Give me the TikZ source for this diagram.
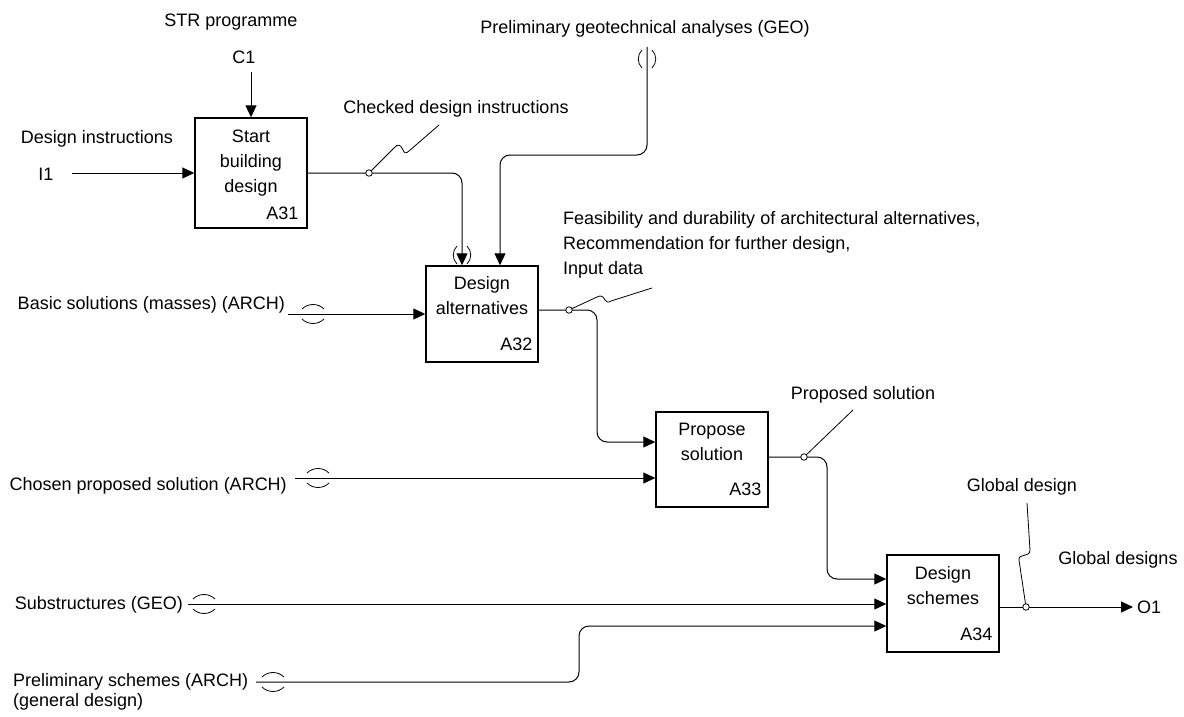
\documentclass[tikz,border=0pt]{standalone}
\usepackage{fontspec}
\setmainfont{Liberation Sans}
\usetikzlibrary{arrows.meta}
\begin{document}
\begin{tikzpicture}[x=1pt,y=-1pt,
  txt/.style={font=\fontsize{18}{25}\selectfont, inner sep=0pt},
  func/.style={draw, line width=1.4pt, minimum width=112pt, inner sep=0pt},
  wire/.style={line width=1pt, rounded corners=10pt},
  flow/.style={wire, -{Triangle[length=12pt,width=11pt]}},
  joint/.style={circle, draw, fill=white, line width=0.8pt, minimum size=6.5pt, inner sep=0pt},
  callout/.style={line width=0.8pt},
  htunnel/.pic={
    \draw[line width=0.8pt] (-11,-5) .. controls (-5,-11) and (5,-11) .. (11,-5);
    \draw[line width=0.8pt] (-11,5) .. controls (-5,11) and (5,11) .. (11,5);},
  vtunnel/.pic={
    \draw[line width=0.8pt] (-5,-9) .. controls (-10,-4) and (-10,4) .. (-5,9);
    \draw[line width=0.8pt] (5,-9) .. controls (10,-4) and (10,4) .. (5,9);}
]
\useasboundingbox (0,0) rectangle (1184,717);

% activity boxes
\node[func, minimum height=110pt] (A31) at (251,173) {};
\node[func, minimum height=96pt]  (A32) at (482,314) {};
\node[func, minimum height=95pt]  (A33) at (712,459.5) {};
\node[func, minimum height=97pt]  (A34) at (943,603.5) {};

% box titles and numbers
\node[txt, align=center, anchor=north] (t31) at (251,130) {Start\\building\\design};
\node[txt, align=center, anchor=north] (t32) at (482,276) {Design\\alternatives};
\node[txt, align=center, anchor=north] (t33) at (712,423) {Propose\\solution};
\node[txt, align=center, anchor=north] (t34) at (943,566) {Design\\schemes};
\node[txt, anchor=base east] (n31) at ([xshift=-9pt,yshift=9.5pt]A31.south east) {A31};
\node[txt, anchor=base east] (n32) at ([xshift=-6pt,yshift=12.5pt]A32.south east) {A32};
\node[txt, anchor=base east] (n33) at ([xshift=-7pt,yshift=12.5pt]A33.south east) {A33};
\node[txt, anchor=base east] (n34) at ([xshift=-7pt,yshift=12.5pt]A34.south east) {A34};

% boundary and arrow labels
\node[txt, anchor=base] (strlab) at (231,26.5) {STR programme};
\node[txt, anchor=base] (C1) at (244,63.5) {C1};
\node[txt, anchor=base] (dilab) at (97,143.5) {Design instructions};
\node[txt, anchor=base] (I1) at (46,180.5) {I1};
\node[txt, anchor=base] (geolab) at (645,34) {Preliminary geotechnical analyses (GEO)};
\node[txt, anchor=base] (chklab) at (456,113.5) {Checked design instructions};
\node[txt, align=left, anchor=north west] (feaslab) at (563,211)
  {Feasibility and durability of architectural alternatives,\\Recommendation for further design,\\Input data};
\node[txt, anchor=base east] (basic) at (285,309.5) {Basic solutions (masses) (ARCH)};
\node[txt, anchor=base east] (chosen) at (287,490) {Chosen proposed solution (ARCH)};
\node[txt, anchor=base east] (subs) at (183,609.5) {Substructures (GEO)};
\node[txt, align=left, anchor=north west] (prelim) at (13,673)
  {Preliminary schemes (ARCH)\\[-5pt](general design)};
\node[txt, anchor=base] (proplab) at (863,399.5) {Proposed solution};
\node[txt, anchor=base] (gdlab) at (1022,491.5) {Global design};
\node[txt, anchor=base] (gdslab) at (1118,564.5) {Global designs};
\node[txt, anchor=base west] (O1) at (1137,613.5) {O1};

% free ends of boundary arrows
\coordinate (c1top) at (251,72);
\coordinate (i1start) at (72,173);
\coordinate (geotop) at (647,47);
\coordinate (basicstart) at (288,314);
\coordinate (chosenstart) at (295,478);
\coordinate (subsstart) at (188,604);
\coordinate (prelimstart) at (256,682);
\coordinate (o1end) at (1133,607);

% control and inputs
\draw[flow] (c1top) -- (A31.north);
\draw[flow] (i1start) -- (A31.west);
\draw[flow] (A31.east) -- (462,173) -- (A32.north -| 462,0);
\draw[flow] (geotop) -- (647,155) -- (500,155) -- (A32.north -| 500,0);
\draw[flow] (basicstart) -- (A32.west);
\draw[flow] (A32.east |- 0,310) -- (597,310) -- (597,442) -- (A33.west |- 0,442);
\draw[flow] (chosenstart) -- (A33.west |- 0,478);
\draw[flow] (A33.east |- 0,457) -- (827,457) -- (827,579) -- (A34.west |- 0,579);
\draw[flow] (subsstart) -- (A34.west |- 0,604);
\draw[flow] (prelimstart) -- (579,682) -- (579,626) -- (A34.west |- 0,626);
\draw[flow] (A34.east |- 0,607) -- (o1end);

% tunnelled arrow ends
\pic at (647,59) {vtunnel};
\pic at (462,255) {vtunnel};
\pic at (313,314) {htunnel};
\pic at (318,478) {htunnel};
\pic at (204,604) {htunnel};
\pic at (273,682) {htunnel};

% label callouts
\draw[callout] (369,173) -- (394,148) .. controls (398,143) and (401,145) .. (403,150)
  .. controls (404,153) and (406,154) .. (409,151) -- (439,125);
\draw[callout] (569,310) -- (597,297) .. controls (601,295) and (603,296) .. (605,300)
  .. controls (606,302) and (608,303) .. (611,301) -- (652,288);
\draw[callout] (804,457) -- (853,410);
\draw[callout] (1026,607) -- (1019,560) .. controls (1018,553) and (1030,558) .. (1030,550) -- (1027,503);

% branch joints
\node[joint] (j1) at (369,173) {};
\node[joint] (j2) at (569,310) {};
\node[joint] (j3) at (804,457) {};
\node[joint] (j4) at (1026,607) {};
\end{tikzpicture}
\end{document}
